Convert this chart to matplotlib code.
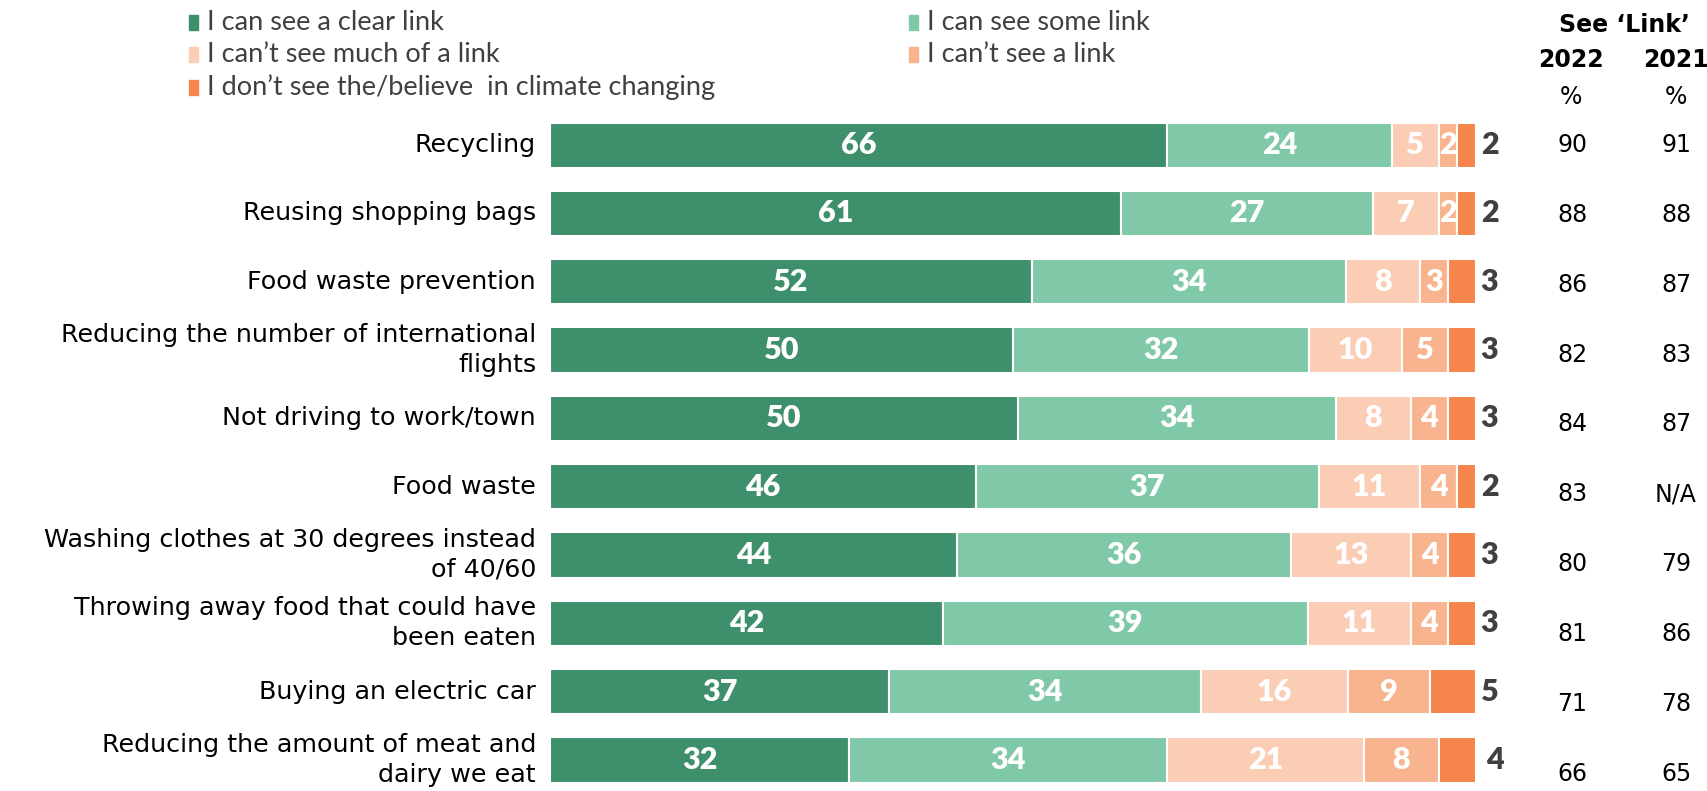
import numpy as np
import matplotlib
matplotlib.use('Agg')
import matplotlib.pyplot as plt
from matplotlib.patches import Rectangle

# ── данные ────────────────────────────────────────────────────────────
categories = [
    'Recycling',
    'Reusing shopping bags',
    'Food waste prevention',
    'Reducing the number of international\nflights',
    'Not driving to work/town',
    'Food waste',
    'Washing clothes at 30 degrees instead\nof 40/60',
    'Throwing away food that could have\nbeen eaten',
    'Buying an electric car',
    'Reducing the amount of meat and\ndairy we eat',
]
clear_link = [66, 61, 52, 50, 50, 46, 44, 42, 37, 32]
some_link = [24, 27, 34, 32, 34, 37, 36, 39, 34, 34]
not_much = [5, 7, 8, 10, 8, 11, 13, 11, 16, 21]
no_link = [2, 2, 3, 5, 4, 4, 4, 4, 9, 8]
no_belief = [2, 2, 3, 3, 3, 2, 3, 3, 5, 4]
see_link_2022 = ['90', '88', '86', '82', '84', '83', '80', '81', '71', '66']
see_link_2021 = ['91', '88', '87', '83', '87', 'N/A', '79', '86', '78', '65']

series = [clear_link, some_link, not_much, no_link, no_belief]
labels = ['I can see a clear link', 'I can see some link',
          "I can\u2019t see much of a link", "I can\u2019t see a link",
          "I don\u2019t see the/believe  in climate changing"]
colors = ['#3E8F6B', '#80C9A8', '#FBCDB4', '#F8B48F', '#F5854A']

W, H = 1708, 791
fig = plt.figure(figsize=(W / 100, H / 100), dpi=100)
ax = fig.add_axes([550 / W, 0, 926 / W, 1])

vals = np.array(series, dtype=float)
shares = vals / vals.sum(axis=0) * 100   # каждая строка растянута до 100%
y = np.arange(len(categories))

left = np.zeros(len(categories))
for k in range(len(series)):
    ax.barh(y, shares[k], left=left, height=0.66, color=colors[k],
            edgecolor='white', linewidth=1.5)
    if k < len(series) - 1:
        for i in range(len(categories)):
            ax.text(left[i] + shares[k][i] / 2, y[i], str(series[k][i]),
                    ha='center', va='center', color='white',
                    fontsize=22, fontweight='heavy', family='Lato')
    left += shares[k]

# последняя категория подписывается справа от полосы
for i in range(len(categories)):
    dx = 1.1 if i == len(categories) - 1 else 0.5
    ax.text(100 + dx, y[i], str(no_belief[i]), ha='left', va='center',
            color='#404040', fontsize=22, fontweight='heavy', family='Lato')

# подписи категорий
for i, cat in enumerate(categories):
    ax.text(-1.5, y[i], cat, ha='right', va='center', fontsize=18.3,
            color='black', linespacing=1.3, family='DejaVu Sans')

# колонки "See 'Link'"
row_step = 1.022
for i in range(len(categories)):
    ax.text(110.4, i * row_step, see_link_2022[i], ha='center', va='center',
            fontsize=17, color='black')
    ax.text(121.6, i * row_step, see_link_2021[i], ha='center', va='center',
            fontsize=17, color='black')

ax.set_xlim(0, 100)
ax.set_ylim(9 + (H - 760) / 68.3, -145 / 68.3)
ax.axis('off')

fig.text(1624 / W, 1 - 25 / H, 'See \u2018Link\u2019', ha='center',
         va='center', fontsize=17, fontweight='bold')
fig.text(1571 / W, 1 - 60 / H, '2022', ha='center', va='center',
         fontsize=17, fontweight='bold')
fig.text(1676 / W, 1 - 60 / H, '2021', ha='center', va='center',
         fontsize=17, fontweight='bold')
fig.text(1571 / W, 1 - 97 / H, '%', ha='center', va='center', fontsize=17)
fig.text(1676 / W, 1 - 97 / H, '%', ha='center', va='center', fontsize=17)

# легенда
legend_pos = [(189, 22), (909, 22), (189, 54), (909, 54), (189, 87)]
for (lx, ly), lab, col in zip(legend_pos, labels, colors):
    fig.patches.append(Rectangle((lx / W, 1 - (ly + 8) / H), 9 / W, 15 / H,
                                 transform=fig.transFigure, color=col))
    fig.text((lx + 18) / W, 1 - ly / H, lab, ha='left', va='center',
             fontsize=19.5, color='#404040', family='Lato')

fig.savefig('out.png', dpi=100)
